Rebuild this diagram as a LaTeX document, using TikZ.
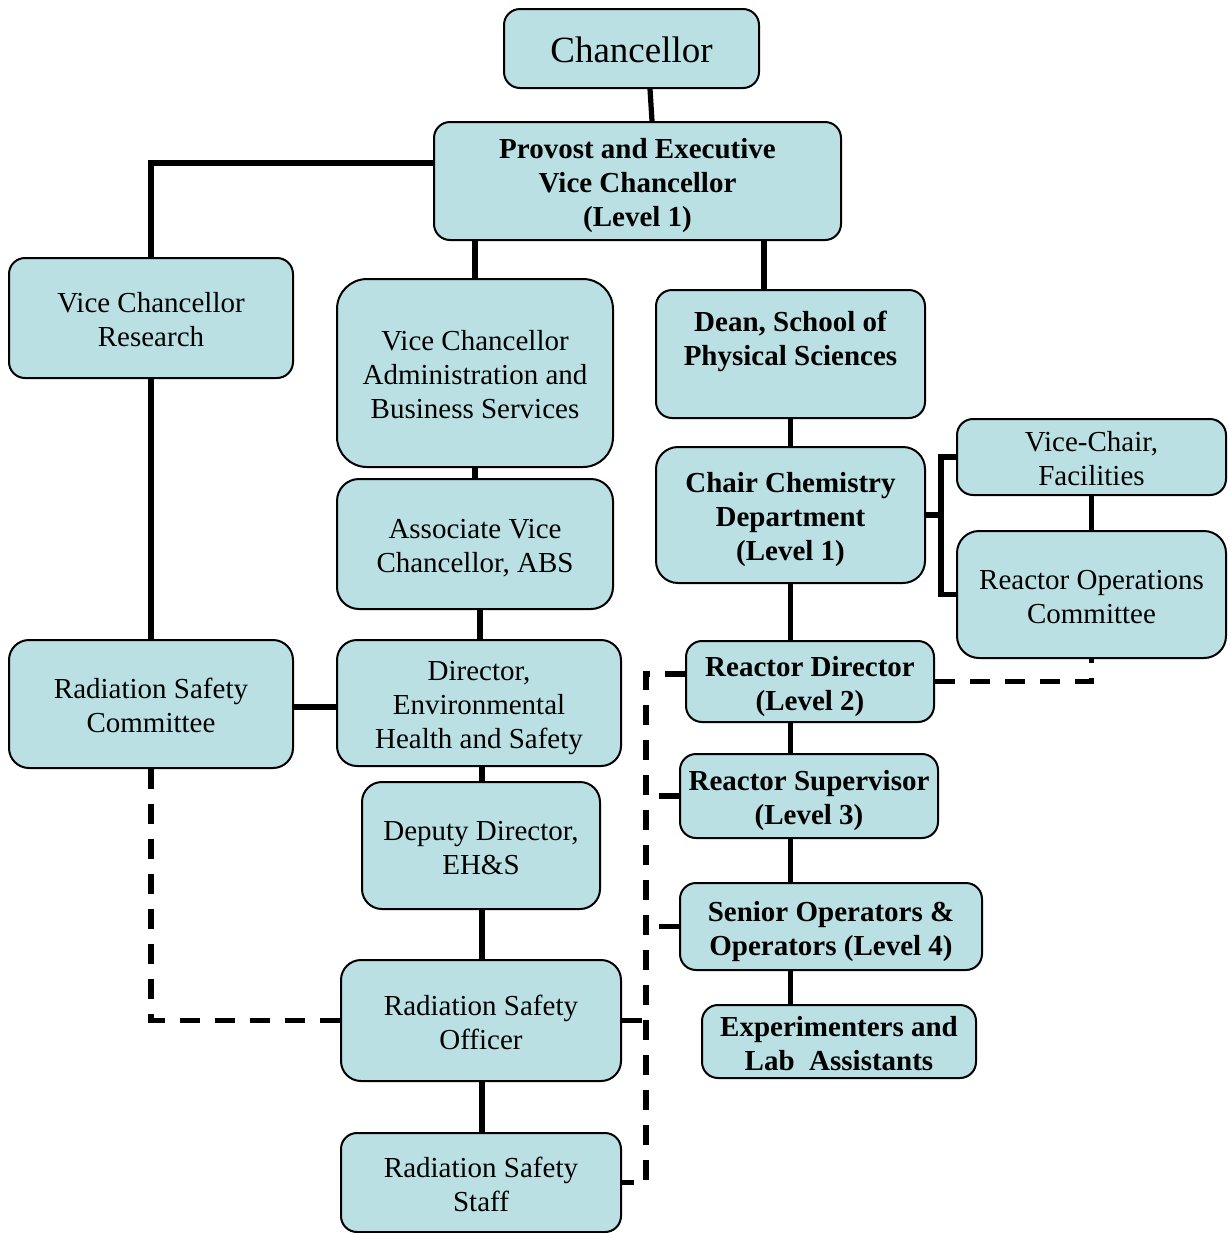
\documentclass[tikz,border=0pt]{standalone}
\usepackage{fontspec}
\setmainfont{Liberation Serif}
\usetikzlibrary{calc}
\definecolor{boxfill}{RGB}{186,224,227}
\newcommand{\tx}[2][6.1pt]{\smash{\raisebox{-#1}{\begin{tabular}[c]{@{}c@{}}#2\end{tabular}}}}
\begin{document}
\begin{tikzpicture}[x=0.5pt,y=-0.5pt,
  box/.style={draw=black, line width=1pt, fill=boxfill, rounded corners=8pt,
    inner sep=0pt, font=\fontsize{14.5}{17}\selectfont},
  bbox/.style={box, font=\fontsize{14.5}{17}\selectfont\bfseries},
  conn/.style={line width=2.6pt},
  dconn/.style={line width=2.6pt, dash pattern=on 10pt off 7.5pt}]
\useasboundingbox (0,0) rectangle (1228,1233);

% nodes
\node[box, font=\fontsize{18.5}{22}\selectfont, minimum width=127.5pt, minimum height=39.5pt] (chan) at (631.5,48.5) {\tx[6.9pt]{Chancellor}};
\node[bbox, minimum width=203.5pt, minimum height=59pt] (prov) at (637.5,181) {\tx{Provost and Executive\\Vice Chancellor\\(Level 1)}};
\node[box, minimum width=142pt, minimum height=60pt] (vcr) at (151,318) {\tx{Vice Chancellor\\Research}};
\node[box, rounded corners=15pt, minimum width=138pt, minimum height=94pt] (vca) at (475,373) {\tx{Vice Chancellor\\Administration and\\Business Services}};
\node[bbox, minimum width=134.5pt, minimum height=64pt] (dean) at (790.5,354) {\tx{Dean, School of\\Physical Sciences\\\mbox{}}};
\node[box, rounded corners=11pt, minimum width=138pt, minimum height=65pt] (avc) at (475,544) {\tx{Associate Vice\\Chancellor, ABS}};
\node[bbox, rounded corners=11pt, minimum width=134.5pt, minimum height=68pt] (chair) at (790.5,515) {\tx{Chair Chemistry\\Department\\(Level 1)}};
\node[box, minimum width=134.5pt, minimum height=38pt] (vch) at (1091.5,457) {\tx{Vice-Chair,\\Facilities}};
\node[box, rounded corners=11pt, minimum width=134.5pt, minimum height=63.5pt] (roc) at (1091.5,594.5) {\tx{Reactor Operations\\Committee}};
\node[box, rounded corners=10pt, minimum width=142pt, minimum height=64pt] (rsc) at (151,704) {\tx{Radiation Safety\\Committee}};
\node[box, rounded corners=10pt, minimum width=142pt, minimum height=63pt] (dir) at (479,703) {\tx{Director,\\Environmental\\Health and Safety}};
\node[bbox, minimum width=124pt, minimum height=40.5pt] (rd) at (810,681.5) {\tx{Reactor Director\\(Level 2)}};
\node[box, rounded corners=10pt, minimum width=119pt, minimum height=63.5pt] (dep) at (481,845.5) {\tx{Deputy Director,\\EH\&S}};
\node[bbox, minimum width=129pt, minimum height=42pt] (sup) at (809,796) {\tx{Reactor Supervisor\\(Level 3)}};
\node[bbox, minimum width=151pt, minimum height=43.5pt] (sen) at (831,926.5) {\tx{Senior Operators \&\\Operators (Level 4)}};
\node[bbox, minimum width=137pt, minimum height=36.5pt] (exp) at (839,1041.5) {\tx{Experimenters and\\Lab\ \ Assistants}};
\node[box, rounded corners=10pt, minimum width=140pt, minimum height=60.5pt] (rso) at (481,1020.5) {\tx{Radiation Safety\\Officer}};
\node[box, minimum width=140pt, minimum height=49.5pt] (staff) at (481,1182.5) {\tx{Radiation Safety\\Staff}};

% helper coordinates
\coordinate (dtop) at ($(dean.north)+(-26.5,0)$);
\coordinate (brk) at ($(chair.east)+(15,0)$);
\coordinate (dv) at ($(rd.west)+(-39,0)$);
\coordinate (rdl) at ($(rd.west)+(0,-7.5)$);

% solid connectors
\draw[conn] ($(chan.south)+(18.5,0)$) -- ($(prov.north)+(14.5,0)$);
\draw[conn] ($(prov.west)+(0,-18)$) -| (vcr.north);
\draw[conn] (vca.north |- prov.south) -- (vca.north);
\draw[conn] (dtop) -- (dtop |- prov.south);
\draw[conn] (vcr.south) -- (rsc.north);
\draw[conn] (vca.south) -- (avc.north);
\draw[conn] ($(dir.north)+(1,0)$) -- ($(dir.north |- avc.south)+(1,0)$);
\draw[conn] ($(rsc.east)+(0,3)$) -- ($(rsc.east -| dir.west)+(0,3)$);
\draw[conn] ($(dep.north)+(1,0)$) -- ($(dep.north |- dir.south)+(1,0)$);
\draw[conn] ($(dep.south)+(1,0)$) -- ($(dep.south |- rso.north)+(1,0)$);
\draw[conn] ($(rso.south)+(1,0)$) -- ($(staff.north)+(1,0)$);
\draw[conn] (dean.south) -- (chair.north);
\draw[conn] (chair.south) -- (chair.south |- rd.north);
\draw[conn] (chair.east) -- (brk);
\draw[conn] (vch.west) -| (brk) |- (roc.west);
\draw[conn] (vch.south) -- (roc.north);
\draw[conn] (chair.south |- rd.south) -- (chair.south |- sup.north);
\draw[conn] (chair.south |- sup.south) -- (chair.south |- sen.north);
\draw[conn] (chair.south |- sen.south) -- (chair.south |- exp.north);

% dashed connectors
\draw[dconn] (rd.east) -| (roc.south);
\draw[dconn] (rsc.south) |- (rso.west);
\draw[dconn] (rdl) -- (rdl -| dv) |- (staff.east);
\draw[dconn] (sup.west) -- (sup.west -| dv);
\draw[dconn] (sen.west) -- (sen.west -| dv);
\draw[dconn] (rso.east) -- (rso.east -| dv);
\end{tikzpicture}
\end{document}
